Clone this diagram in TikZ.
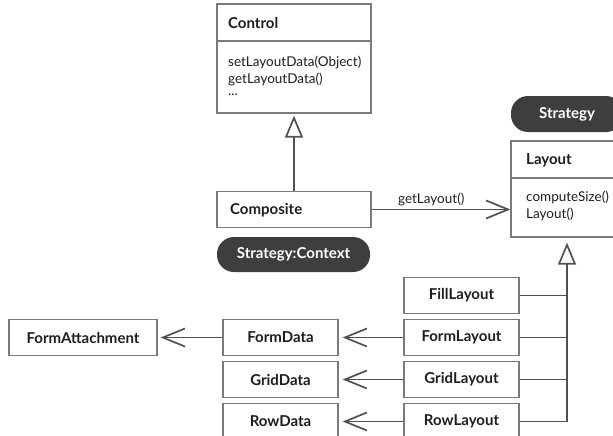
\documentclass[tikz,border=0pt]{standalone}
\usepackage{fontspec}
\setmainfont{Lato}
\usetikzlibrary{arrows.meta,calc}
\definecolor{ln}{HTML}{505050}
\definecolor{bx}{HTML}{7A7A7A}
\definecolor{pill}{HTML}{3E3E3E}
\definecolor{tx}{HTML}{1E1E1E}
\begin{document}
\begin{tikzpicture}[x=1pt,y=-1pt,
  bfont/.style={font=\fontsize{15}{17}\selectfont\bfseries},
  rfont/.style={font=\fontsize{13.5}{16}\selectfont},
  box/.style={draw=bx,line width=1.3pt,fill=white,inner sep=0pt,minimum height=36pt,bfont,text=tx},
  pillbox/.style={fill=pill,rounded corners=17pt,inner sep=0pt,minimum height=35pt,text=white,bfont},
  title/.style={anchor=west,inner sep=0pt,bfont,text=tx},
  meth/.style={anchor=west,inner sep=0pt,rfont,text=tx},
  conn/.style={draw=ln,line width=1.7pt},
  dep/.style={conn,-{Straight Barb[length=22pt,width=18pt,line width=1.7pt]}},
  inh/.style={conn,-{Triangle[open,length=22pt,width=18pt,line width=1.7pt]}}]
\clip (0,0) rectangle (613,436);
\useasboundingbox (0,0) rectangle (613,436);
% Control
\node[box,minimum width=154pt,minimum height=109pt] (ctrl) at (294,58.5) {};
\draw[draw=bx,line width=1.3pt] (ctrl.west |- 0,41) -- (ctrl.east |- 0,41);
\node[title] (ctrlT) at (228,23) {Control};
\node[meth] (m1) at (228,62) {setLayoutData(Object)};
\node[meth] (m2) at (228,79) {getLayoutData()};
\node[meth] (m3) at (228,95) {...};
% Composite
\node[box,minimum width=154pt] (comp) at (294,209.5) {};
\node[title] (compT) at (230,210) {Composite};
\node[pillbox,minimum width=153pt] (ctx) at (293.5,254.5) {Strategy:Context};
% Strategy / Layout
\node[pillbox,minimum width=112pt,minimum height=36pt] (strat) at (567,114) {Strategy};
\node[box,minimum width=112pt,minimum height=96pt] (layout) at (567,189) {};
\draw[draw=bx,line width=1.3pt] (layout.west |- 0,178) -- (layout.east |- 0,178);
\node[title] (layT) at (526,160) {Layout};
\node[meth] (l1) at (526,197) {computeSize()};
\node[meth] (l2) at (526,214) {Layout()};
% lower boxes
\node[box,minimum width=115pt] (fill) at (461.5,295.5) {FillLayout};
\node[box,minimum width=115pt] (formL) at (461.5,337.5) {FormLayout};
\node[box,minimum width=115pt] (gridL) at (461.5,379.5) {GridLayout};
\node[box,minimum width=115pt] (rowL) at (461.5,421.5) {RowLayout};
\node[box,minimum width=115pt] (formD) at (280.5,337.5) {FormData};
\node[box,minimum width=115pt] (gridD) at (280.5,379.5) {GridData};
\node[box,minimum width=115pt] (rowD) at (280.5,421.5) {RowData};
\node[box,minimum width=148pt] (attach) at (83,337.5) {FormAttachment};
% connectors
\draw[inh,shorten >=2pt] (comp.north) -- (ctrl.south);
\draw[dep] (comp.east) -- (comp.east -| layout.west) node[pos=0.43,above=3pt,inner sep=0pt,rfont,text=tx] (gl) {getLayout()};
\draw[inh,shorten >=5pt] (rowL.east) -- (rowL.east -| layout.south) -- (layout.south);
\draw[conn] (fill.east) -- (fill.east -| layout.south);
\draw[conn] (formL.east) -- (formL.east -| layout.south);
\draw[conn] (gridL.east) -- (gridL.east -| layout.south);
\draw[dep,shorten >=4pt] (formL.west) -- (formD.east);
\draw[dep,shorten >=4pt] (gridL.west) -- (gridD.east);
\draw[dep,shorten >=4pt] (rowL.west) -- (rowD.east);
\draw[dep,shorten >=3pt] (formD.west) -- (attach.east);
\end{tikzpicture}
\end{document}
